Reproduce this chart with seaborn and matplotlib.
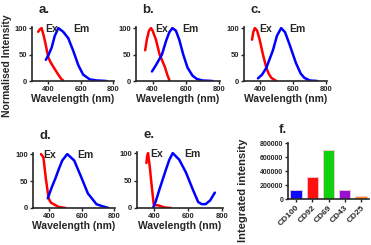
import numpy as np
import pandas as pd
import matplotlib
matplotlib.use("Agg")
import matplotlib.pyplot as plt
import seaborn as sns

sns.set_style("ticks")
plt.rcParams['font.family'] = ['Liberation Sans', 'DejaVu Sans']
plt.rcParams['font.weight'] = 'bold'

# excitation / emission spectra (wavelength nm, normalised %)
ex_a_wl = [338, 350, 359, 370, 380, 390, 400, 415, 431, 462, 480, 492]
ex_a_val = [93, 98, 100, 88, 75, 60, 45, 35, 27, 12, 4, 1]
em_a_wl = [385, 400, 421, 440, 462, 492, 523, 554, 585, 615, 656, 700, 759]
em_a_val = [40, 48, 63, 85, 100, 93, 81, 57, 30, 12, 3, 1, 0]

ex_b_wl = [355, 365, 378, 390, 400, 420, 442, 473, 490, 503]
ex_b_val = [58, 78, 95, 100, 95, 78, 50, 27, 10, 0]
em_b_wl = [396, 420, 456, 480, 500, 519, 540, 560, 584, 610, 640, 665, 700, 760]
em_b_val = [18, 30, 50, 75, 92, 100, 95, 78, 50, 25, 10, 4, 1, 0]

ex_c_wl = [349, 356, 366, 380, 396, 416, 436, 450, 466, 497]
ex_c_val = [78, 92, 100, 95, 77, 49, 25, 14, 6, 0]
em_c_wl = [385, 410, 436, 476, 500, 526, 550, 576, 616, 645, 667, 700, 747]
em_c_val = [5, 12, 25, 58, 85, 100, 92, 70, 34, 14, 6, 1, 0]

ex_d_wl = [349, 364, 379, 396, 410, 427, 459, 501]
ex_d_val = [100, 94, 55, 18, 10, 7, 2, 0]
em_d_wl = [391, 415, 438, 460, 480, 511, 554, 596, 638, 691, 720, 765]
em_d_val = [18, 38, 55, 73, 88, 100, 88, 58, 27, 7, 4, 0]

ex_e_wl = [355, 360, 365, 375, 384, 398, 410, 423, 461, 500]
ex_e_val = [82, 95, 100, 75, 47, 7, 5, 5, 1, 0]
em_e_wl = [394, 410, 433, 471, 490, 510, 548, 587, 626, 659, 680, 703, 730, 757]
em_e_val = [0, 12, 35, 71, 88, 100, 88, 65, 35, 11, 7, 7, 14, 28]

panel_letters = ["a.", "b.", "c.", "d.", "e."]
ex_label_x = [383, 416, 390, 362, 380]
em_label_x = [552, 578, 578, 570, 575]
spectra = [
    (ex_a_wl, ex_a_val, em_a_wl, em_a_val),
    (ex_b_wl, ex_b_val, em_b_wl, em_b_val),
    (ex_c_wl, ex_c_val, em_c_wl, em_c_val),
    (ex_d_wl, ex_d_val, em_d_wl, em_d_val),
    (ex_e_wl, ex_e_val, em_e_wl, em_e_val),
]

# integrated intensity
samples = ["CD100", "CD92", "CD69", "CD43", "CD25"]
integrated = [135000, 320000, 700000, 125000, 40000]
bar_colors = ["#0a0aff", "#ff1010", "#10d010", "#9a10d0", "#ff8c1a"]

W, H = 371, 245
fig = plt.figure(figsize=(W / 100, H / 100), dpi=100)


def box(l, r, t, b):
    return [l / W, 1 - b / H, (r - l) / W, (b - t) / H]


boxes = [box(32, 114, 27, 81), box(136, 220, 27, 81), box(244, 327, 27, 81),
         box(33, 115, 153, 208), box(137, 223, 152, 208)]

for i, (exw, exv, emw, emv) in enumerate(spectra):
    ax = fig.add_axes(boxes[i])
    sns.lineplot(x=exw, y=exv, color="#ff0000", lw=1.8, ax=ax)
    sns.lineplot(x=emw, y=emv, color="#0000ff", lw=1.8, ax=ax)
    ax.set_xlim(300, 805)
    ax.set_ylim(0, 102)
    ax.set_xticks([400, 600, 800])
    ax.set_yticks([0, 50, 100])
    sns.despine(ax=ax)
    for s in ["left", "bottom"]:
        ax.spines[s].set_linewidth(1.2)
    ax.tick_params(labelsize=5.5, width=1.0, length=2.5, pad=1)
    for lab in ax.get_xticklabels() + ax.get_yticklabels():
        lab.set_fontweight("bold")
    ax.set_xlabel("Wavelength (nm)", fontsize=7.5, fontweight="bold", labelpad=1)
    ax.text(ex_label_x[i], 98, "Ex", fontsize=7.5, fontweight="bold", va="center")
    ax.text(em_label_x[i], 98, "Em", fontsize=7.5, fontweight="bold", va="center")
    ax.text(340, 128, panel_letters[i], fontsize=9.5, fontweight="bold")

fig.text(7 / W, 1 - 66 / H, "Normalised Intensity", rotation=90, fontsize=7.5,
         fontweight="bold", ha="center", va="center")

axf = fig.add_axes(box(288, 369, 143, 199))
df = pd.DataFrame({"sample": samples, "value": integrated})
sns.barplot(data=df, x="sample", y="value", hue="sample", palette=bar_colors,
            legend=False, width=0.7, saturation=1, edgecolor="#f4c8d8",
            linewidth=0.6, ax=axf)
axf.set_ylim(0, 800000)
axf.set_yticks([0, 200000, 400000, 600000, 800000])
axf.set_yticklabels(["0", "200000", "400000", "600000", "800000"])
sns.despine(ax=axf)
for s in ["left", "bottom"]:
    axf.spines[s].set_linewidth(1.2)
axf.tick_params(labelsize=5, width=1.0, length=2.5, pad=1)
axf.tick_params(axis="x", labelsize=6)
for lab in axf.get_xticklabels():
    lab.set_rotation(45)
    lab.set_ha("right")
    lab.set_rotation_mode("anchor")
for lab in axf.get_xticklabels() + axf.get_yticklabels():
    lab.set_fontweight("bold")
axf.set_xlabel("")
axf.set_ylabel("")
axf.text(-0.11, 1.18, "f.", transform=axf.transAxes, fontsize=9.5, fontweight="bold")
fig.text(243 / W, 1 - 190 / H, "Integrated intensity", rotation=90, fontsize=8,
         fontweight="bold", ha="center", va="center")

fig.savefig("out.png", dpi=100)
